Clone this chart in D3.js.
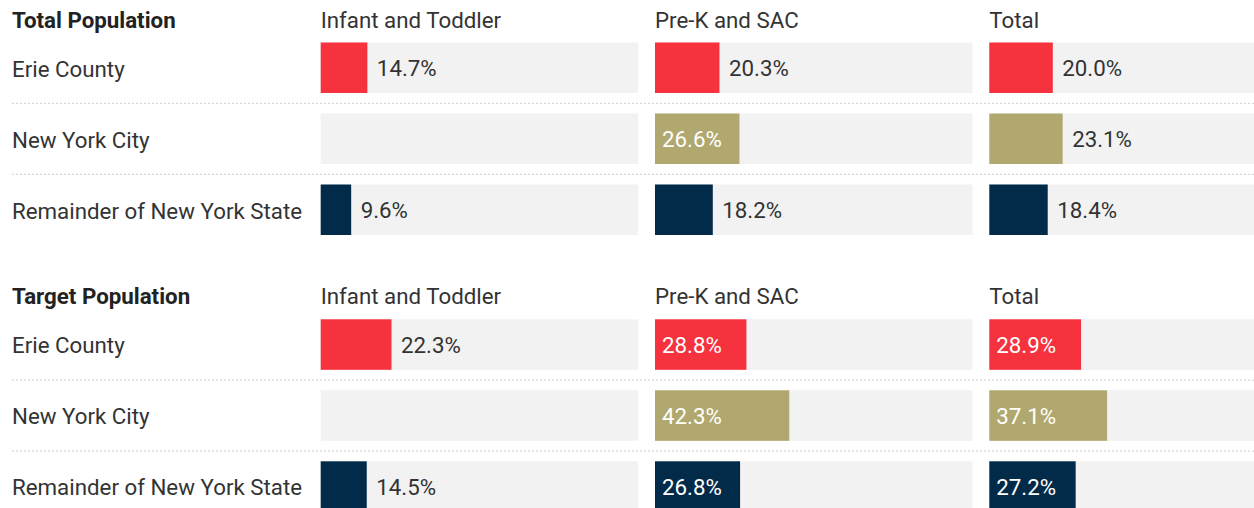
<!DOCTYPE html>
<html>
<head>
<meta charset="utf-8">
<script src="https://cdn.jsdelivr.net/npm/d3@7"></script>
<style>
  html, body { margin: 0; padding: 0; background: #fff; }
  svg { display: block; font-family: Roboto, "Noto Sans", sans-serif; }
</style>
</head>
<body>
<svg id="chart" width="1254" height="508"></svg>
<script>
// ---- data ----
const sections = ["Total Population", "Target Population"];
const regions = ["Erie County", "New York City", "Remainder of New York State"];
const groups = ["Infant and Toddler", "Pre-K and SAC", "Total"];
// values per section: rows = regions, columns = groups (null = no data)
const totalPopulation = [
  [14.7, 20.3, 20.0],
  [null, 26.6, 23.1],
  [9.6, 18.2, 18.4]
];
const targetPopulation = [
  [22.3, 28.8, 28.9],
  [null, 42.3, 37.1],
  [14.5, 26.8, 27.2]
];
const sectionValues = [totalPopulation, targetPopulation];
const regionColors = ["#f6323e", "#b0a86e", "#012b49"];

// ---- layout ----
const W = 1254, H = 508;
const svg = d3.select("#chart");
const colStarts = [320.7, 655, 989.3];
const colWidth = 317.5;
const x = d3.scaleLinear().domain([0, 100]).range([0, colWidth]);
const sectionTop = [0, 276.8];
const rowStep = 71;
const barTop = 42.5;
const barH = 50.5;
const textColor = "#333333";
const fontSize = 22.3;

sections.forEach((sec, si) => {
  const g = svg.append("g").attr("transform", `translate(0,${sectionTop[si]})`);
  // section title
  g.append("text")
    .attr("x", 12).attr("y", 27.5)
    .attr("font-size", fontSize).attr("font-weight", 700)
    .attr("fill", "#222")
    .text(sec);
  // column headers
  groups.forEach((grp, ci) => {
    g.append("text")
      .attr("x", colStarts[ci]).attr("y", 27.5)
      .attr("font-size", fontSize).attr("fill", textColor)
      .text(grp);
  });
  regions.forEach((reg, ri) => {
    const y0 = barTop + ri * rowStep;
    g.append("text")
      .attr("x", 12).attr("y", y0 + barH / 2)
      .attr("dy", "0.4em")
      .attr("font-size", fontSize).attr("fill", textColor)
      .text(reg);
    // dotted separator
    if (ri < regions.length - 1) {
      g.append("line")
        .attr("x1", 12).attr("x2", W)
        .attr("y1", y0 + barH + 10.3).attr("y2", y0 + barH + 10.3)
        .attr("stroke", "#cccccc").attr("stroke-width", 1)
        .attr("stroke-dasharray", "2,2");
    }
    groups.forEach((grp, ci) => {
      const cx = colStarts[ci];
      g.append("rect")
        .attr("x", cx).attr("y", y0)
        .attr("width", colWidth).attr("height", barH)
        .attr("fill", "#f2f2f2");
      const v = sectionValues[si][ri][ci];
      if (v == null) return;
      const bw = x(v) - x(0);
      g.append("rect")
        .attr("x", cx + x(0)).attr("y", y0)
        .attr("width", bw).attr("height", barH)
        .attr("fill", regionColors[ri]);
      const inside = bw >= 80;
      g.append("text")
        .attr("x", inside ? cx + x(0) + 7 : cx + x(v) + 9.5)
        .attr("y", y0 + barH / 2)
        .attr("dy", "0.38em")
        .attr("font-size", fontSize)
        .attr("fill", inside ? "#ffffff" : textColor)
        .text(v.toFixed(1) + "%");
    });
  });
});
</script>
</body>
</html>
